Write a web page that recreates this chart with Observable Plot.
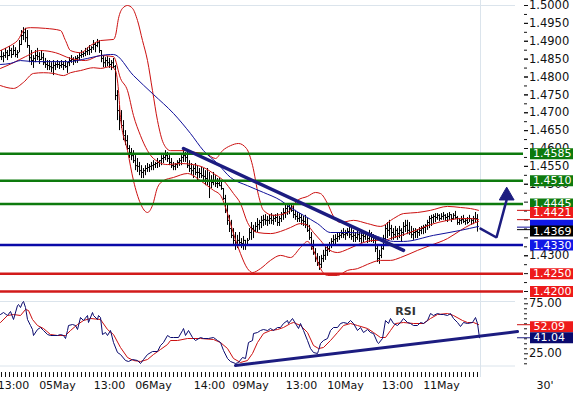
<!DOCTYPE html>
<html><head><meta charset="utf-8">
<script src="https://cdn.jsdelivr.net/npm/d3@7"></script>
<script src="https://cdn.jsdelivr.net/npm/@observablehq/plot@0.6"></script>
<style>
html,body{margin:0;padding:0;background:#fff;}
#chart{position:relative;width:573px;height:396px;overflow:hidden;font-family:"DejaVu Sans",Verdana,sans-serif;}
#chart svg{position:absolute;left:0;overflow:visible;background:transparent;}
</style></head><body><div id="chart"></div>
<script>
// ---- 30-minute EUR/USD bars (index 0 = 05May 00:00) ----
const barStart = -28;
const high = [
1.4874,1.4868,1.4880,1.4874,1.4885,1.4880,1.4888,1.4882,1.4874,1.4902,
1.4930,1.4938,1.4936,1.4930,1.4888,1.4874,1.4860,1.4874,1.4880,1.4868,
1.4874,1.4866,1.4852,1.4846,1.4846,1.4840,1.4846,1.4840,1.4846,1.4843,
1.4846,1.4843,1.4846,1.4840,1.4854,1.4860,1.4854,1.4857,1.4860,1.4866,
1.4874,1.4871,1.4880,1.4882,1.4888,1.4885,1.4902,1.4896,1.4905,1.4902,
1.4874,1.4860,1.4854,1.4857,1.4852,1.4846,1.4852,1.4832,1.4762,1.4720,
1.4706,1.4678,1.4650,1.4636,1.4608,1.4600,1.4594,1.4580,1.4572,1.4561,
1.4552,1.4544,1.4552,1.4558,1.4555,1.4561,1.4566,1.4561,1.4572,1.4566,
1.4580,1.4586,1.4594,1.4589,1.4580,1.4572,1.4561,1.4558,1.4566,1.4572,
1.4580,1.4594,1.4589,1.4594,1.4566,1.4558,1.4552,1.4558,1.4552,1.4544,
1.4547,1.4544,1.4538,1.4544,1.4533,1.4524,1.4533,1.4524,1.4516,1.4516,
1.4510,1.4488,1.4469,1.4441,1.4413,1.4399,1.4376,1.4365,1.4357,1.4365,
1.4348,1.4354,1.4343,1.4348,1.4376,1.4393,1.4385,1.4393,1.4404,1.4399,
1.4410,1.4413,1.4415,1.4410,1.4413,1.4418,1.4413,1.4415,1.4418,1.4410,
1.4421,1.4432,1.4441,1.4446,1.4443,1.4446,1.4438,1.4427,1.4421,1.4418,
1.4415,1.4410,1.4413,1.4404,1.4385,1.4365,1.4343,1.4320,1.4306,1.4298,
1.4301,1.4315,1.4323,1.4329,1.4337,1.4348,1.4357,1.4359,1.4365,1.4365,
1.4371,1.4376,1.4371,1.4376,1.4382,1.4376,1.4371,1.4365,1.4371,1.4365,
1.4371,1.4365,1.4368,1.4365,1.4371,1.4365,1.4359,1.4354,1.4331,1.4315,
1.4329,1.4357,1.4385,1.4393,1.4399,1.4385,1.4376,1.4382,1.4376,1.4382,
1.4376,1.4393,1.4399,1.4399,1.4393,1.4382,1.4376,1.4376,1.4373,1.4379,
1.4382,1.4385,1.4387,1.4399,1.4410,1.4413,1.4415,1.4418,1.4418,1.4415,
1.4418,1.4421,1.4415,1.4418,1.4421,1.4415,1.4418,1.4424,1.4410,1.4404,
1.4410,1.4413,1.4404,1.4407,1.4413,1.4404,1.4410,1.4421,1.4415];
const low = [
1.4846,1.4840,1.4852,1.4846,1.4857,1.4852,1.4860,1.4854,1.4852,1.4868,
1.4888,1.4902,1.4896,1.4880,1.4840,1.4832,1.4824,1.4840,1.4846,1.4835,
1.4846,1.4832,1.4824,1.4818,1.4818,1.4812,1.4804,1.4818,1.4824,1.4821,
1.4824,1.4818,1.4824,1.4810,1.4829,1.4838,1.4832,1.4838,1.4838,1.4846,
1.4852,1.4854,1.4857,1.4860,1.4860,1.4866,1.4874,1.4868,1.4882,1.4866,
1.4840,1.4826,1.4826,1.4829,1.4824,1.4818,1.4824,1.4734,1.4678,1.4650,
1.4656,1.4622,1.4608,1.4594,1.4572,1.4566,1.4558,1.4538,1.4533,1.4524,
1.4516,1.4516,1.4524,1.4533,1.4533,1.4538,1.4538,1.4544,1.4544,1.4547,
1.4552,1.4558,1.4566,1.4561,1.4552,1.4544,1.4538,1.4538,1.4544,1.4550,
1.4552,1.4561,1.4561,1.4544,1.4533,1.4524,1.4516,1.4524,1.4510,1.4516,
1.4516,1.4510,1.4496,1.4496,1.4460,1.4488,1.4496,1.4491,1.4488,1.4494,
1.4483,1.4455,1.4418,1.4385,1.4365,1.4348,1.4329,1.4315,1.4320,1.4329,
1.4320,1.4315,1.4315,1.4326,1.4343,1.4343,1.4348,1.4365,1.4365,1.4371,
1.4376,1.4382,1.4385,1.4382,1.4387,1.4387,1.4385,1.4393,1.4382,1.4382,
1.4393,1.4399,1.4404,1.4413,1.4415,1.4421,1.4404,1.4399,1.4393,1.4393,
1.4385,1.4382,1.4376,1.4365,1.4343,1.4315,1.4301,1.4281,1.4270,1.4259,
1.4264,1.4281,1.4287,1.4298,1.4309,1.4320,1.4329,1.4331,1.4337,1.4343,
1.4348,1.4348,1.4343,1.4354,1.4348,1.4343,1.4337,1.4337,1.4343,1.4337,
1.4334,1.4337,1.4343,1.4334,1.4337,1.4337,1.4334,1.4309,1.4281,1.4276,
1.4292,1.4315,1.4334,1.4348,1.4354,1.4343,1.4343,1.4348,1.4343,1.4348,
1.4337,1.4354,1.4365,1.4359,1.4357,1.4348,1.4343,1.4348,1.4348,1.4354,
1.4359,1.4359,1.4362,1.4371,1.4376,1.4382,1.4390,1.4393,1.4399,1.4396,
1.4399,1.4399,1.4396,1.4393,1.4399,1.4393,1.4399,1.4401,1.4385,1.4385,
1.4387,1.4390,1.4385,1.4387,1.4393,1.4385,1.4387,1.4393,1.4368];
const close = [
1.4857,1.4860,1.4868,1.4860,1.4874,1.4863,1.4874,1.4863,1.4868,1.4891,
1.4916,1.4924,1.4910,1.4888,1.4854,1.4846,1.4852,1.4860,1.4857,1.4849,
1.4854,1.4840,1.4835,1.4832,1.4829,1.4826,1.4832,1.4835,1.4835,1.4832,
1.4835,1.4832,1.4829,1.4840,1.4846,1.4849,1.4846,1.4852,1.4854,1.4860,
1.4863,1.4866,1.4871,1.4874,1.4877,1.4882,1.4891,1.4888,1.4896,1.4874,
1.4852,1.4840,1.4846,1.4840,1.4835,1.4840,1.4829,1.4748,1.4706,1.4678,
1.4664,1.4636,1.4622,1.4600,1.4589,1.4580,1.4566,1.4552,1.4550,1.4538,
1.4533,1.4538,1.4544,1.4547,1.4550,1.4552,1.4555,1.4558,1.4561,1.4566,
1.4572,1.4575,1.4580,1.4572,1.4561,1.4552,1.4550,1.4555,1.4561,1.4566,
1.4575,1.4580,1.4575,1.4552,1.4544,1.4538,1.4544,1.4533,1.4533,1.4530,
1.4524,1.4522,1.4516,1.4510,1.4510,1.4505,1.4510,1.4502,1.4502,1.4496,
1.4488,1.4460,1.4427,1.4399,1.4376,1.4357,1.4343,1.4329,1.4343,1.4337,
1.4334,1.4343,1.4331,1.4343,1.4365,1.4376,1.4371,1.4382,1.4387,1.4393,
1.4399,1.4401,1.4399,1.4399,1.4404,1.4399,1.4404,1.4407,1.4393,1.4404,
1.4415,1.4421,1.4432,1.4438,1.4432,1.4427,1.4415,1.4410,1.4404,1.4407,
1.4399,1.4396,1.4387,1.4371,1.4351,1.4326,1.4309,1.4292,1.4281,1.4276,
1.4292,1.4301,1.4315,1.4320,1.4331,1.4340,1.4345,1.4348,1.4354,1.4357,
1.4362,1.4359,1.4362,1.4368,1.4359,1.4354,1.4357,1.4351,1.4359,1.4348,
1.4357,1.4354,1.4359,1.4348,1.4354,1.4351,1.4343,1.4320,1.4292,1.4301,
1.4320,1.4348,1.4376,1.4371,1.4376,1.4365,1.4359,1.4371,1.4362,1.4371,
1.4365,1.4382,1.4385,1.4371,1.4365,1.4359,1.4365,1.4368,1.4365,1.4371,
1.4376,1.4379,1.4385,1.4393,1.4404,1.4407,1.4410,1.4407,1.4413,1.4404,
1.4410,1.4413,1.4407,1.4410,1.4415,1.4404,1.4413,1.4407,1.4393,1.4399,
1.4401,1.4396,1.4399,1.4393,1.4404,1.4399,1.4404,1.4404,1.4369];

// ---- Bollinger bands and moving average, [bar index, price] ----
const bbUpper = [[-28.5,1.4874],[-23.5,1.4888],[-20,1.4902],[-16,1.4936],[-13.5,1.4938],[-6,1.4936],[1.5,1.4930],[4,1.4902],[6.5,1.4874],[11.5,1.4868],[16.5,1.4888],[21.5,1.4902],[28,1.4905],[29,1.4916],[30.5,1.4964],[32.5,1.4992],[35,1.5000],[37.5,1.4992],[40,1.4958],[42.5,1.4902],[45,1.4846],[47.5,1.4762],[50,1.4678],[53,1.4614],[56.5,1.4594],[64,1.4594],[69,1.4589],[74,1.4586],[79,1.4572],[82.5,1.4594],[86.5,1.4608],[90.5,1.4614],[94.5,1.4600],[97.5,1.4553],[100.5,1.4469],[103,1.4427],[108,1.4413],[115,1.4421],[120,1.4455],[125,1.4466],[129,1.4477],[131.5,1.4474],[135,1.4446],[138,1.4410],[141.5,1.4393],[148,1.4399],[155,1.4390],[161.5,1.4382],[168,1.4404],[173,1.4418],[180,1.4421],[186.5,1.4427],[195,1.4438],[201.5,1.4435],[206.5,1.4432],[210.5,1.4427]];
const bbMiddle = [[-28.5,1.4824],[-22,1.4840],[-16,1.4857],[-8.5,1.4874],[-1,1.4868],[6.5,1.4852],[14,1.4846],[21.5,1.4860],[28,1.4857],[31.5,1.4796],[35,1.4762],[38,1.4692],[41.5,1.4636],[45,1.4594],[48,1.4572],[55,1.4555],[61.5,1.4558],[68,1.4555],[73,1.4547],[78,1.4530],[83,1.4510],[88,1.4474],[91.5,1.4446],[95,1.4393],[100,1.4365],[106.5,1.4362],[111.5,1.4368],[116.5,1.4379],[121.5,1.4390],[125,1.4385],[128,1.4365],[131.5,1.4343],[135,1.4320],[140,1.4309],[145,1.4318],[151.5,1.4334],[158,1.4343],[163,1.4343],[168,1.4351],[173,1.4359],[180,1.4373],[186.5,1.4387],[195,1.4399],[201.5,1.4404],[206.5,1.4404],[210.5,1.4401]];
const bbLower = [[-28.5,1.4776],[-22,1.4768],[-17,1.4785],[-12,1.4810],[-7,1.4812],[-2,1.4810],[3,1.4804],[6.5,1.4812],[11.5,1.4818],[18,1.4826],[21.5,1.4824],[26.5,1.4829],[29,1.4818],[30.5,1.4762],[31.5,1.4687],[35,1.4594],[38,1.4510],[41.5,1.4446],[45,1.4421],[47.5,1.4441],[50,1.4491],[53,1.4510],[58,1.4519],[65,1.4530],[71.5,1.4510],[78,1.4483],[81.5,1.4469],[85,1.4418],[88,1.4362],[91.5,1.4306],[95,1.4264],[97.5,1.4253],[101.5,1.4264],[106.5,1.4287],[111.5,1.4301],[116.5,1.4295],[121.5,1.4323],[125,1.4340],[128,1.4315],[131.5,1.4264],[135,1.4245],[140,1.4245],[145,1.4259],[150,1.4264],[155,1.4276],[161.5,1.4287],[166.5,1.4287],[171.5,1.4295],[180,1.4315],[186.5,1.4329],[195,1.4348],[201.5,1.4371],[206.5,1.4387],[210.5,1.4396]];
const movingAvg = [[-28.5,1.4835],[-23.5,1.4838],[-18.5,1.4846],[-12,1.4843],[5,1.4843],[15,1.4852],[21.5,1.4860],[26.5,1.4863],[28,1.4863],[38,1.4804],[48,1.4751],[58,1.4698],[66.5,1.4642],[73,1.4594],[80,1.4558],[86.5,1.4519],[95,1.4496],[103,1.4477],[111.5,1.4455],[116.5,1.4435],[123,1.4413],[130,1.4390],[136.5,1.4365],[145,1.4365],[155,1.4362],[161.5,1.4351],[168,1.4340],[173,1.4340],[188,1.4357],[201.5,1.4371],[210.5,1.4382]];

// ---- RSI and its signal, [bar index, value] ----
const rsiLine = [[-28.5,64.3],[-27,66.3],[-25,63.3],[-23.5,67.3],[-22,59.3],[-20,73.3],[-19.5,74.3],[-18.5,71.3],[-17.5,76.3],[-17,77.3],[-16,71.3],[-15,59.3],[-13.5,53.3],[-12.5,49.3],[-12,43.3],[-10,49.3],[-8.5,51.3],[-7,48.3],[-5,44.3],[-3.5,43.3],[0,43.3],[1.5,44.3],[3,43.3],[4,40.3],[5,48.3],[5.5,53.3],[7.5,54.3],[9,53.3],[10,49.3],[11.5,61.3],[13,58.3],[15,63.3],[15.5,56.3],[17.5,66.3],[18,63.3],[20,59.3],[20.5,63.3],[21.5,61.3],[22.5,44.3],[24,46.3],[25,43.3],[26.5,48.3],[28,36.3],[30,26.3],[31.5,24.3],[34,18.3],[35.5,17.3],[37.5,19.3],[40,18.3],[41.5,15.3],[43,19.3],[45,24.3],[47.5,27.3],[50,27.3],[51.5,33.3],[53,36.3],[55,43.3],[56.5,41.3],[58,41.3],[60.5,41.3],[62.5,48.3],[63,50.3],[64,43.3],[65.5,48.3],[67.5,41.3],[69,38.3],[71.5,41.3],[73,40.3],[75.5,40.3],[78,41.3],[80,38.3],[81.5,36.3],[83,28.3],[85,20.3],[86.5,17.3],[89,15.3],[90.5,16.3],[92.5,21.3],[94,20.3],[95.5,36.3],[97.5,38.3],[98,45.3],[100,46.3],[101.5,48.3],[103,49.3],[105,48.3],[106.5,50.3],[108,48.3],[110,51.3],[111.5,51.3],[113,55.3],[115,58.3],[115.5,55.3],[117.5,60.3],[119,55.3],[120.5,50.3],[121.5,55.3],[123,48.3],[125,38.3],[126.5,30.3],[128,26.3],[130,25.3],[130.5,28.3],[131.5,35.3],[133,38.3],[135,40.3],[136.5,48.3],[138,51.3],[140,51.3],[141.5,55.3],[143,56.3],[145,55.3],[146.5,58.3],[148,55.3],[150,48.3],[151.5,51.3],[153,46.3],[155,49.3],[156.5,46.3],[158,45.3],[160,36.3],[160.5,35.3],[162.5,40.3],[164,58.3],[165.5,55.3],[166.5,60.3],[168,55.3],[170,53.3],[171.5,56.3],[173,60.3],[175,56.3],[176.5,55.3],[178,53.3],[180,53.3],[181.5,56.3],[183,55.3],[185,58.3],[186.5,65.3],[188,63.3],[190,65.3],[191.5,64.3],[193,64.3],[195,63.3],[196.5,65.3],[198,60.3],[200,56.3],[201.5,52.3],[203,56.3],[205,55.3],[207.5,56.3],[209,61.3],[210,55.3],[211,41.0]];
const rsiSignal = [[-28.5,56.3],[-25,63.3],[-22,64.3],[-18.5,63.3],[-16,69.3],[-14.5,68.3],[-12.5,59.3],[-10,53.3],[-7,50.3],[-3.5,44.3],[0,43.3],[4,43.3],[6.5,48.3],[10,54.3],[13,58.3],[16.5,60.3],[21.5,59.3],[25,49.3],[28,44.3],[31.5,31.3],[35,21.3],[38,18.3],[41.5,17.3],[45,19.3],[48,24.3],[51.5,29.3],[55,34.3],[56.5,38.3],[60,38.3],[65,40.3],[71.5,40.3],[78,39.3],[81.5,36.3],[85,30.3],[88,20.3],[91.5,16.3],[95,18.3],[97.5,25.3],[100,36.3],[103,45.3],[106.5,48.3],[110,49.3],[113,51.3],[116.5,55.3],[118,56.3],[121.5,53.3],[125,46.3],[128,33.3],[130.5,30.3],[133,31.3],[136.5,38.3],[140,46.3],[143,53.3],[146.5,55.3],[150,53.3],[155,50.3],[158,46.3],[161.5,41.3],[164,41.3],[166.5,48.3],[169,55.3],[173,56.3],[178,55.3],[183,55.3],[186.5,60.3],[190,64.3],[195,65.3],[198,63.3],[202.5,58.3],[205,56.3],[208,56.3],[210.5,54.3]];

// ---- annotations ----
const priceTrend = [[63,1.4600],[173,1.4315]];
const forecastPath = [[211.5,1.4376],[219.5,1.4351],[224.5,1.4455]];
const forecastTip = [[224.6,1.4468]];
const rsiTrend = [[89,13.3],[230,47.3]];

const greenLevels = [1.4585, 1.4510, 1.4445];
const blueLevels = [1.4330];
const redLevels = [1.4250, 1.4200];
const upperBandLast = 1.4421, maLast = 1.4385, lastPrice = 1.4369;
const rsiSignalLast = 52.09, rsiLast = 41.04;

// right price axis: tick marks every 0.0025, labels where not hidden by a value box
const priceMajorTicks = [1.4200,1.4250,1.4300,1.4350,1.4400,1.4450,1.4500,1.4550,1.4600,1.4650,1.4700,1.4750,1.4800,1.4850,1.4900,1.4950,1.5000];
const priceMinorTicks = [1.4225,1.4275,1.4325,1.4375,1.4425,1.4475,1.4525,1.4575,1.4625,1.4675,1.4725,1.4775,1.4825,1.4875,1.4925,1.4975];
const priceTickLabels = [1.4300,1.4500,1.4550,1.4600,1.4650,1.4700,1.4750,1.4800,1.4850,1.4900,1.4950,1.5000];
const rsiLabelTicks = [25, 75];
const rsiMinorTicks = [15,20,30,35,40,45,50,55,60,65,70,80];

const timeTickIdx = [-22, 0, 26, 48, 76, 96.5, 122, 144, 170, 192];
const timeTickLabels = ["13:00","05May","13:00","06May","14:00","09May","13:00","10May","13:00","11May"];
const timeframe = "30'";

// layout constants (bar-index units)
const xDomain = [-28.5, 233];
const plotEnd = 211.5;
const boxX1 = 236.5, boxX2 = 258, markX1 = 230;

const bars = high.map((h, k) => ({i: barStart + k, high: h, low: low[k], close: close[k], open: k ? close[k - 1] : close[k]}));

const GREEN = "#0d7a0d", RED_LINE = "#d21a1a", RED_BOX = "#ee1a1a", BLUE_LINE = "#0a0aa8", BLUE_BOX = "#1018e6",
      NAVY = "#1c1c80", GRID = "#dbe4ec", BB = "#cc1010", MA = "#10109a";
const font = "DejaVu Sans, Verdana, sans-serif";
const FS = 11.5, BOX_FS = 11;
const X = d => d[0], Y = d => d[1];

function boxMarks(values, color, showText = true) {
  const m = [Plot.ruleY(values, {x1: boxX1, x2: boxX2, stroke: color, strokeWidth: 11})];
  if (showText) m.push(Plot.text(values, {y: d => d, x: boxX1, text: d => d.toFixed(4), fill: "white", textAnchor: "start", dx: 2.5, fontSize: BOX_FS}));
  return m;
}

const price = Plot.plot({
  width: 573, height: 300,
  marginLeft: 0, marginRight: 50, marginTop: 0, marginBottom: 0,
  x: {domain: xDomain, axis: null},
  y: {domain: [1.417483, 1.501399], axis: null},
  style: {fontFamily: font, fontSize: "11.5px", background: "transparent", overflow: "visible", color: "#111"},
  marks: [
    Plot.ruleY([1.5], {x1: xDomain[0], x2: 229, stroke: GRID}),
    Plot.ruleX([plotEnd], {stroke: GRID}),
    Plot.axisY({ticks: priceMinorTicks, anchor: "right", tickSize: 3, tickFormat: () => ""}),
    Plot.axisY({ticks: priceMajorTicks, anchor: "right", tickSize: 4, tickFormat: () => ""}),
    Plot.axisY({ticks: priceTickLabels, anchor: "right", tickSize: 4, tickPadding: 1.5, tickFormat: d => d.toFixed(4), textAnchor: "start", fontSize: FS}),
    // bars
    Plot.ruleX(bars, {x: "i", y1: "low", y2: "high", stroke: "#000"}),
    Plot.ruleY(bars, {y: "open", x1: d => d.i - 0.5, x2: "i", stroke: "#000"}),
    Plot.ruleY(bars, {y: "close", x1: "i", x2: d => d.i + 0.5, stroke: "#000"}),
    // indicators
    Plot.line(bbUpper, {x: X, y: Y, stroke: BB, strokeWidth: 1, curve: "monotone-x"}),
    Plot.line(bbMiddle, {x: X, y: Y, stroke: BB, strokeWidth: 1, curve: "monotone-x"}),
    Plot.line(bbLower, {x: X, y: Y, stroke: BB, strokeWidth: 1, curve: "monotone-x"}),
    Plot.line(movingAvg, {x: X, y: Y, stroke: MA, strokeWidth: 1, curve: "monotone-x"}),
    // levels
    Plot.ruleY(greenLevels, {stroke: GREEN, strokeWidth: 2.5}),
    Plot.ruleY(blueLevels, {stroke: BLUE_LINE, strokeWidth: 2.5}),
    Plot.ruleY(redLevels, {stroke: RED_LINE, strokeWidth: 2.5}),
    // annotations
    Plot.line(priceTrend, {x: X, y: Y, stroke: NAVY, strokeWidth: 3.5}),
    Plot.line(forecastPath, {x: X, y: Y, stroke: NAVY, strokeWidth: 2.5, strokeLinejoin: "miter"}),
    Plot.dot(forecastTip, {x: X, y: Y, symbol: "triangle", r: 5.5, fill: NAVY, stroke: NAVY, strokeWidth: 1}),
    // value markers
    Plot.ruleY([1.4427, 1.4401], {x1: markX1, x2: boxX1, stroke: BB}),
    Plot.ruleY([1.4380], {x1: markX1, x2: boxX1, stroke: MA}),
    Plot.ruleY([1.4373], {x1: markX1, x2: boxX1, stroke: "#000"}),
    // label boxes
    ...boxMarks(greenLevels, GREEN),
    ...boxMarks(blueLevels, BLUE_BOX),
    ...boxMarks(redLevels, RED_BOX),
    ...boxMarks([upperBandLast], RED_BOX),
    ...boxMarks([maLast], BLUE_BOX, false),
    ...boxMarks([lastPrice], "#000")
  ]
});

const rsi = Plot.plot({
  width: 573, height: 103,
  marginLeft: 0, marginRight: 50, marginTop: 8, marginBottom: 30.5,
  x: {domain: xDomain, axis: null},
  y: {domain: [12.8, 77.3], axis: null},
  style: {fontFamily: font, fontSize: "11.5px", background: "transparent", overflow: "visible", color: "#111"},
  marks: [
    Plot.ruleY([12.8, 77.3], {x1: xDomain[0], x2: 229, stroke: GRID}),
    Plot.ruleX([plotEnd], {stroke: GRID, insetTop: -8, insetBottom: -11.5}),
    Plot.ruleX(d3.range(-28, 211, 2), {stroke: "#111", insetTop: 71, insetBottom: -11.5}),
    Plot.axisY({ticks: rsiMinorTicks, anchor: "right", tickSize: 3, tickFormat: () => ""}),
    Plot.axisY({ticks: rsiLabelTicks, anchor: "right", tickSize: 4, tickPadding: 1.5, tickFormat: d => d.toFixed(2), textAnchor: "start", fontSize: FS}),
    Plot.line(rsiSignal, {x: X, y: Y, stroke: BB, strokeWidth: 1}),
    Plot.line(rsiLine, {x: X, y: Y, stroke: "#0a0a6e", strokeWidth: 1}),
    Plot.line(rsiTrend, {x: X, y: Y, stroke: NAVY, strokeWidth: 3}),
    Plot.text(["RSI"], {x: 174, frameAnchor: "top", dy: 6, fontWeight: "bold", fontSize: 11, fill: "#333"}),
    Plot.ruleY([rsiSignalLast + 2], {x1: markX1, x2: boxX1, stroke: BB}),
    Plot.ruleY([rsiLast], {x1: markX1, x2: boxX1, stroke: NAVY}),
    Plot.ruleY([rsiSignalLast], {x1: boxX1, x2: boxX2, stroke: RED_BOX, strokeWidth: 11}),
    Plot.text([rsiSignalLast], {y: d => d, x: boxX1, text: d => d.toFixed(2), fill: "white", textAnchor: "start", dx: 3, fontSize: BOX_FS}),
    Plot.ruleY([rsiLast], {x1: boxX1, x2: boxX2, stroke: "#0a0a6e", strokeWidth: 11}),
    Plot.text([rsiLast], {y: d => d, x: boxX1, text: d => d.toFixed(2), fill: "white", textAnchor: "start", dx: 3, fontSize: BOX_FS}),
    Plot.text(timeTickIdx, {x: d => d, text: (d, k) => timeTickLabels[k], frameAnchor: "bottom", dy: 22.5, fontSize: 11, fill: "#111"}),
    Plot.text([timeframe], {frameAnchor: "bottom-right", dx: 30, dy: 22.5, fontSize: 11, fill: "#111"})
  ]
});

const chart = document.getElementById("chart");
price.style.top = "0px";
rsi.style.top = "293px";
chart.appendChild(price);
chart.appendChild(rsi);
</script>
</body></html>
